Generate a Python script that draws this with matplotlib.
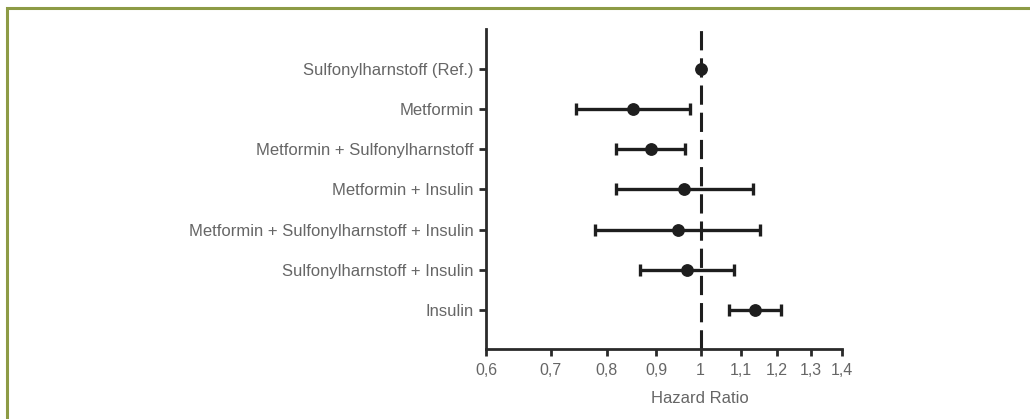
import numpy as np
import matplotlib.pyplot as plt
from matplotlib.patches import Rectangle
from matplotlib.ticker import FixedLocator, FixedFormatter, NullLocator

categories = [
    "Sulfonylharnstoff (Ref.)",
    "Metformin",
    "Metformin + Sulfonylharnstoff",
    "Metformin + Insulin",
    "Metformin + Sulfonylharnstoff + Insulin",
    "Sulfonylharnstoff + Insulin",
    "Insulin",
]
hr = [1.00, 0.851, 0.888, 0.962, 0.947, 0.967, 1.138]
ci_low = [1.00, 0.743, 0.818, 0.818, 0.777, 0.866, 1.070]
ci_high = [1.00, 0.976, 0.964, 1.133, 1.153, 1.082, 1.210]
xticks = [0.6, 0.7, 0.8, 0.9, 1.0, 1.1, 1.2, 1.3, 1.4]
xtick_labels = ["0,6", "0,7", "0,8", "0,9", "1", "1,1", "1,2", "1,3", "1,4"]

plt.rcParams['font.family'] = ['Liberation Sans', 'DejaVu Sans']

fig = plt.figure(figsize=(10.3, 4.19), dpi=100)
fig.patches.append(Rectangle((7 / 1030, -0.05), 1.2, 1.05 - 8.5 / 419,
                             transform=fig.transFigure, fill=False,
                             edgecolor='#8d9b45', linewidth=2.2))

ax = fig.add_axes([486 / 1030, 1 - 349 / 419, 356 / 1030, 320 / 419])
ax.set_xscale('log')

ypos = np.arange(len(categories))
hr_a = np.array(hr)
err = [hr_a - np.array(ci_low), np.array(ci_high) - hr_a]

ax.axvline(1.0, color='#1e1e1e', linewidth=2.2, dashes=(6.3, 2.6), zorder=1)
ax.errorbar(hr, ypos, xerr=err, fmt='o', color='#1e1e1e', markersize=8.2,
            elinewidth=2.4, capsize=4.5, capthick=2.4, zorder=3)

ax.set_xlim(0.6, 1.4)
ax.set_ylim(6.98, -1.0)
ax.xaxis.set_major_locator(FixedLocator(xticks))
ax.xaxis.set_major_formatter(FixedFormatter(xtick_labels))
ax.xaxis.set_minor_locator(NullLocator())
ax.set_yticks(ypos)
ax.set_yticklabels(categories)

for s in ['top', 'right']:
    ax.spines[s].set_visible(False)
for s in ['left', 'bottom']:
    ax.spines[s].set_linewidth(2)
    ax.spines[s].set_color('#2a2a2a')

ax.tick_params(axis='both', direction='out', length=5, width=2,
               color='#2a2a2a', labelcolor='#666666', pad=4)
ax.tick_params(axis='y', labelsize=12)
ax.tick_params(axis='x', labelsize=11.5, pad=5)
ax.set_xlabel("Hazard Ratio", color='#666666', fontsize=12)
ax.xaxis.set_label_coords((700 - 486) / 356, -0.13)

fig.savefig("out.png", dpi=100)
